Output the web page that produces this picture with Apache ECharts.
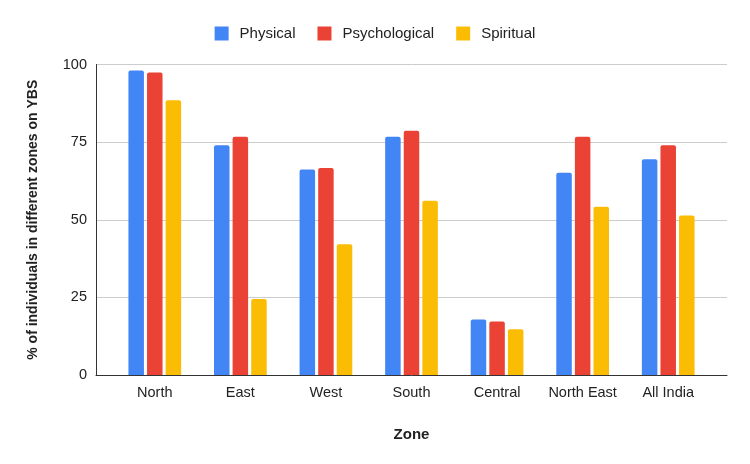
<!DOCTYPE html>
<html><head><meta charset="utf-8">
<script src="https://cdn.jsdelivr.net/npm/echarts@6/dist/echarts.min.js"></script>
<style>html,body{margin:0;padding:0;background:#fff}#c{width:750px;height:464px}</style>
</head><body><div id="c"></div>
<script>
const categories = ['North','East','West','South','Central','North East','All India'];
const physical = [98.1, 74.0, 66.2, 76.7, 17.9, 65.1, 69.5];
const psychological = [97.4, 76.7, 66.7, 78.7, 17.2, 76.7, 74.0];
const spiritual = [88.5, 24.5, 42.1, 56.1, 14.7, 54.2, 51.4];
const yTicks = [0, 25, 50, 75, 100];

const chart = echarts.init(document.getElementById('c'), null, {renderer:'canvas'});
const font = '"Liberation Sans", Arial, sans-serif';
const mk = (name, data, color) => ({
  name, type:'bar', data, xAxisIndex:1, yAxisIndex:1,
  barWidth:15.5, barGap:'20%',
  itemStyle:{color, borderRadius:[2,2,0,0]}
});
chart.setOption({
  animation:false,
  textStyle:{fontFamily:font},
  legend:{
    top:21, left:'center', itemWidth:14, itemHeight:14, itemGap:22,
    icon:'rect',
    textStyle:{fontSize:15, color:'#222', fontFamily:font, padding:[0,0,0,6]},
    data:['Physical','Psychological','Spiritual']
  },
  grid:[
    {left:96, right:23, top:64.5, bottom:89, containLabel:false},
    {left:112, right:39, top:64.5, bottom:89, containLabel:false}
  ],
  xAxis:[
    {type:'category', gridIndex:0, data:categories, axisLabel:{show:false}, axisTick:{show:false},
     axisLine:{lineStyle:{color:'#333', width:1}}, name:'Zone', nameLocation:'middle', nameGap:52,
     nameTextStyle:{fontSize:15, fontWeight:'bold', color:'#222', fontFamily:font}},
    {type:'category', gridIndex:1, data:categories, axisTick:{show:false}, axisLine:{show:false},
     axisLabel:{interval:0, fontSize:14.5, color:'#222', margin:10, fontFamily:font}}
  ],
  yAxis:[
    {type:'value', gridIndex:0, min:0, max:100, interval:25,
     axisLine:{show:true, lineStyle:{color:'#333', width:1}}, axisTick:{show:false},
     axisLabel:{fontSize:14.5, color:'#222', margin:9, fontFamily:font,
       formatter:v => yTicks.includes(v) ? String(v) : ''},
     splitLine:{lineStyle:{color:'#ccc', width:1}},
     name:'% of individuals in different zones on YBS', nameLocation:'middle', nameGap:56,
     nameTextStyle:{fontSize:14, fontWeight:'bold', color:'#222', fontFamily:font}},
    {type:'value', gridIndex:1, min:0, max:100, interval:25, show:false, splitLine:{show:false}}
  ],
  series:[
    mk('Physical', physical, '#4285F4'),
    mk('Psychological', psychological, '#EA4335'),
    mk('Spiritual', spiritual, '#FBBC04')
  ]
});
</script></body></html>
